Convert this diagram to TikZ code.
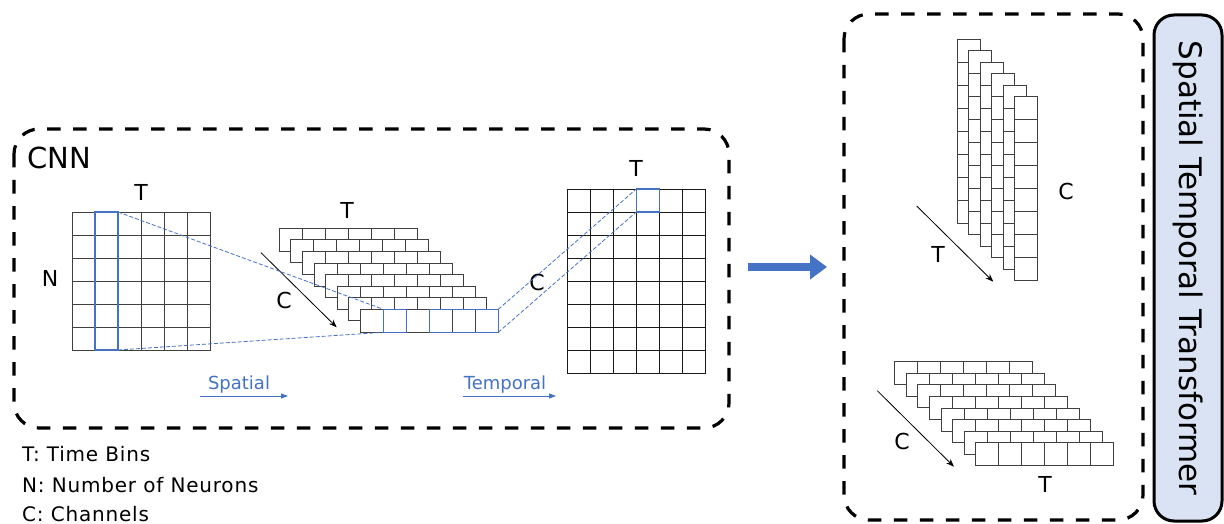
\documentclass[tikz,border=0pt]{standalone}
\usepackage{fontspec}
\setmainfont{DejaVu Sans}
\usetikzlibrary{arrows.meta}
\definecolor{ofblue}{HTML}{4472C4}
\definecolor{boxfill}{HTML}{DAE3F3}
\begin{document}
\begin{tikzpicture}[x=1pt,y=-1pt,
  cell/.style={draw=black!75, line width=0.9pt, fill=white},
  bluecell/.style={draw=ofblue, line width=1.1pt},
  frame/.style={draw=black, line width=3.2pt, dash pattern=on 13.5pt off 12.5pt, rounded corners=25pt},
  lbl/.style={font=\fontsize{22}{26}\selectfont, inner sep=0pt},
  legend/.style={font=\fontsize{20}{22}\selectfont\addfontfeature{LetterSpace=4}, inner sep=0pt, anchor=west},
  bluedash/.style={draw=ofblue, line width=0.8pt, dash pattern=on 4pt off 2pt},
  axisarrow/.style={draw=black, line width=0.8pt, -{Stealth[length=8pt,width=6pt]}},
  dirarrow/.style={draw=ofblue, line width=0.8pt, -{Triangle[length=7pt,width=5pt]}},
  dirtext/.style={font=\fontsize{18}{22}\selectfont, text=ofblue, inner sep=0pt},
  bigarrow/.style={draw=ofblue, line width=8.5pt, -{Triangle[length=17pt,width=24pt]}}
]
\useasboundingbox (0,0) rectangle (1224,524);

% frames
\draw[frame] (14,129) rectangle (729,428);
\draw[frame] (844,14) rectangle (1143,520);
\node[inner sep=0pt, anchor=west, font=\fontsize{29}{34}\selectfont] (cnn) at (27,158) {CNN};

% left matrix N x T
\foreach \i in {0,...,5} \foreach \j in {0,...,5}
  \draw[cell] ({72+23*\i},{212+23*\j}) rectangle ++(23,23);
\draw[bluecell] (95,212) rectangle (118,350);
\node[lbl] (tL) at (141,192) {T};
\node[lbl] (nL) at (50,278) {N};

% middle stack
\foreach \k in {0,...,7} \foreach \i in {0,...,5}
  \draw[cell] ({279.3+11.57*\k+23*\i},{228.3+11.57*\k}) rectangle ++(23,23);
\draw[bluecell] (383.3,309.3) rectangle ++(23,23);
\draw[bluecell] (429.3,309.3) rectangle ++(69,23);
\node[lbl] (tM) at (347,210) {T};
\node[lbl] (cM) at (284,300) {C};
\coordinate (cMa) at (261,252.7);
\coordinate (cMb) at (336.7,327.3);
\draw[axisarrow] (cMa) -- (cMb);

% right matrix
\foreach \i in {0,...,5} \foreach \j in {0,...,7}
  \draw[cell,draw=black!90] ({567.3+23*\i},{189+23*\j}) rectangle ++(23,23);
\draw[bluecell] (636.3,189) rectangle ++(23,23);
\node[lbl] (tR) at (636,168) {T};
\node[lbl] (cR) at (537,282) {C};

% blue dashed connectors
\coordinate (lctr) at (118,212);
\coordinate (lcbr) at (118,350);
\coordinate (fstl) at (383.3,309.3);
\coordinate (fsbl) at (383.3,332.3);
\coordinate (fetr) at (498.3,309.3);
\coordinate (febr) at (498.3,332.3);
\coordinate (rctl) at (636.3,189);
\coordinate (rcbl) at (636.3,212);
\draw[bluedash] (lctr) -- (fstl);
\draw[bluedash] (lcbr) -- (fsbl);
\draw[bluedash] (fetr) -- (rctl);
\draw[bluedash] (febr) -- (rcbl);

% spatial / temporal
\node[dirtext] (sp) at (239,385) {Spatial};
\coordinate (spa) at (200,396);
\coordinate (spb) at (288,396);
\draw[dirarrow] (spa) -- (spb);
\node[dirtext] (tp) at (505,385) {Temporal};
\coordinate (tpa) at (463,396);
\coordinate (tpb) at (556,396);
\draw[dirarrow] (tpa) -- (tpb);

% legend
\node[legend] (lg1) at (22,454) {T: Time Bins};
\node[legend] (lg2) at (22,485) {N: Number of Neurons};
\node[legend] (lg3) at (22,514) {C: Channels};

% big arrow
\coordinate (ba) at (748,267);
\coordinate (bb) at (827,267);
\draw[bigarrow] (ba) -- (bb);

% upper right vertical stack
\foreach \k in {0,...,5} \foreach \j in {0,...,7}
  \draw[cell] ({957.3+11.5*\k},{39+11.5*\k+23*\j}) rectangle ++(23,23);
\node[lbl] (cU) at (1066,191) {C};
\node[lbl] (tU) at (938,254) {T};
\coordinate (tUa) at (916.7,206);
\coordinate (tUb) at (993.3,281.7);
\draw[axisarrow] (tUa) -- (tUb);

% lower right stack
\foreach \k in {0,...,7} \foreach \i in {0,...,5}
  \draw[cell] ({894.7+11.57*\k+23*\i},{361.7+11.57*\k}) rectangle ++(23,23);
\node[lbl] (cD) at (902,441) {C};
\node[lbl] (tD) at (1045,484) {T};
\coordinate (cDa) at (877.3,390.7);
\coordinate (cDb) at (954,466.7);
\draw[axisarrow] (cDa) -- (cDb);

% transformer box
\node[draw=black, line width=3pt, fill=boxfill, rounded corners=20pt,
      rotate=-90, minimum width=506pt, minimum height=68pt, inner sep=0pt,
      font=\fontsize{31}{36}\selectfont] (stt) at (1188,268) {Spatial Temporal Transformer};
\end{tikzpicture}
\end{document}
